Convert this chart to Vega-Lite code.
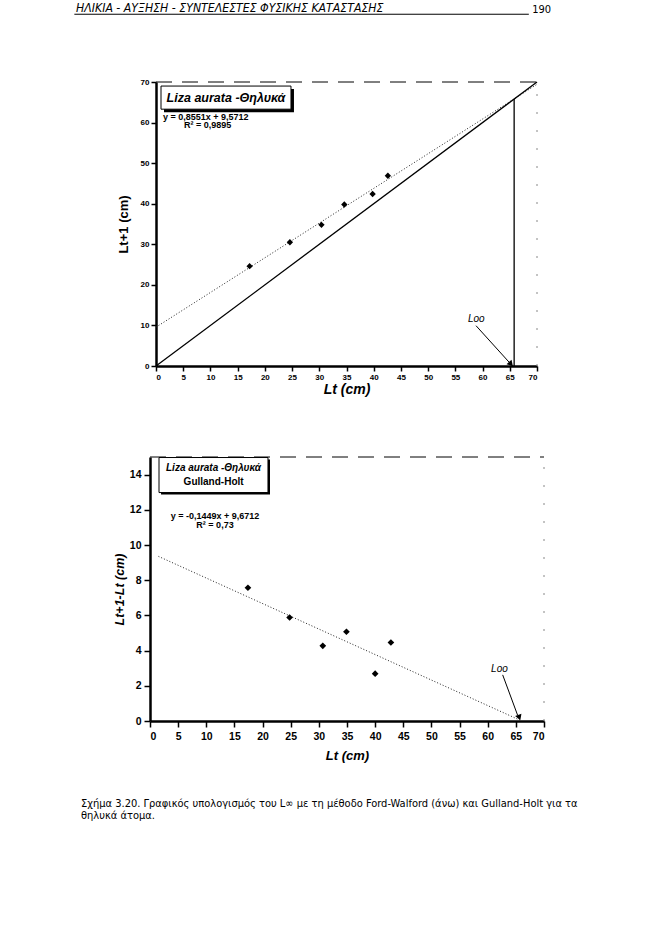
{
  "$schema": "https://vega.github.io/schema/vega-lite/v6.json",
  "padding": {"left": 73, "top": 1, "right": 5, "bottom": 5},
  "spacing": 60,
  "config": {
    "view": {"stroke": null},
    "font": "Liberation Sans",
    "axis": {"grid": false, "domainColor": "black", "tickColor": "black", "labelColor": "black", "titleColor": "black"}
  },
  "vconcat": [
    {
      "width": 381,
      "height": 284,
      "encoding": {
        "x": {"field": "x", "type": "quantitative", "scale": {"domain": [0, 70], "nice": false},
          "axis": {"values": [0, 5, 10, 15, 20, 25, 30, 35, 40, 45, 50, 55, 60, 65, 70], "title": "Lt (cm)",
            "labelFontSize": 8, "labelFontWeight": "bold", "labelPadding": 2, "tickSize": 5, "tickWidth": 1.5,
            "domainWidth": 2.5, "titleFontSize": 14, "titleFontWeight": "bold", "titleFontStyle": "italic", "titlePadding": 1}},
        "y": {"field": "y", "type": "quantitative", "scale": {"domain": [0, 70], "nice": false},
          "axis": {"values": [0, 10, 20, 30, 40, 50, 60, 70], "title": "Lt+1 (cm)",
            "labelFontSize": 8, "labelFontWeight": "bold", "labelPadding": 2, "tickSize": 5, "tickWidth": 1.5,
            "domainWidth": 2.5, "titleFontSize": 13, "titleFontWeight": "bold", "titlePadding": 10}}
      },
      "layer": [
        {
          "data": {"values": [{"x": 0, "y": 9.5712}, {"x": 70, "y": 69.43}]},
          "mark": {"type": "line", "color": "#222", "strokeWidth": 1, "strokeDash": [1, 2]}
        },
        {
          "data": {"values": [{"x": 0, "y": 0}, {"x": 70, "y": 70}]},
          "mark": {"type": "line", "color": "black", "strokeWidth": 1.3}
        },
        {
          "data": {"values": [{"x": 65.8, "y": 0, "y2": 65.8}]},
          "mark": {"type": "rule", "color": "black", "strokeWidth": 1.3},
          "encoding": {"y2": {"field": "y2"}}
        },
        {
          "data": {"values": [{"x": 0, "x2": 70, "y": 70}]},
          "mark": {"type": "rule", "color": "black", "strokeWidth": 1, "strokeDash": [16, 10]},
          "encoding": {"x2": {"field": "x2"}}
        },
        {
          "data": {"values": [{"x": 70, "y": 0, "y2": 70}]},
          "mark": {"type": "rule", "color": "#888", "strokeWidth": 1, "strokeDash": [2, 16]},
          "encoding": {"y2": {"field": "y2"}}
        },
        {
          "data": {"values": [
            {"x": 17.2, "y": 24.6}, {"x": 24.6, "y": 30.5}, {"x": 30.4, "y": 34.8},
            {"x": 34.6, "y": 39.8}, {"x": 39.8, "y": 42.4}, {"x": 42.6, "y": 46.9}
          ]},
          "mark": {"type": "point", "shape": "diamond", "filled": true, "color": "black", "size": 40, "opacity": 1}
        },
        {
          "data": {"values": [{"x": 1.47, "x2": 25.35, "y": 62.56, "y2": 68.26}]},
          "mark": {"type": "rect", "color": "black"},
          "encoding": {"x2": {"field": "x2"}, "y2": {"field": "y2"}}
        },
        {
          "data": {"values": [{"x": 0.92, "x2": 24.8, "y": 63.3, "y2": 69.0}]},
          "mark": {"type": "rect", "fill": "white", "stroke": "black", "strokeWidth": 1},
          "encoding": {"x2": {"field": "x2"}, "y2": {"field": "y2"}}
        },
        {
          "data": {"values": [{"x": 12.86, "y": 65.07, "t": "Liza aurata -Θηλυκά"}]},
          "mark": {"type": "text", "fontSize": 12.5, "fontWeight": "bold", "fontStyle": "italic", "align": "center", "baseline": "alphabetic", "color": "black"},
          "encoding": {"text": {"field": "t"}}
        },
        {
          "data": {"values": [{"x": 1.29, "y": 60.6, "t": "y = 0,8551x + 9,5712"}, {"x": 5.14, "y": 58.6, "t": "R² = 0,9895"}]},
          "mark": {"type": "text", "fontSize": 9, "fontWeight": "bold", "align": "left", "baseline": "alphabetic", "color": "black"},
          "encoding": {"text": {"field": "t"}}
        },
        {
          "data": {"values": [{"x": 58.8, "y": 9.93, "x2": 64.9, "y2": 0.9}]},
          "mark": {"type": "rule", "color": "black", "strokeWidth": 1},
          "encoding": {"x2": {"field": "x2"}, "y2": {"field": "y2"}}
        },
        {
          "data": {"values": [{"x": 65.1, "y": 0.65}]},
          "mark": {"type": "point", "shape": "triangle", "filled": true, "color": "black", "size": 45, "angle": 138, "opacity": 1}
        },
        {
          "data": {"values": [{"x": 57.3, "y": 10.85, "t": "Loo"}]},
          "mark": {"type": "text", "fontSize": 10, "fontStyle": "italic", "align": "left", "baseline": "alphabetic", "color": "black"},
          "encoding": {"text": {"field": "t"}}
        },
        {
          "data": {"values": [{"x": -14.7, "y": 87.26, "t": "ΗΛΙΚΙΑ - ΑΥΞΗΣΗ - ΣΥΝΤΕΛΕΣΤΕΣ ΦΥΣΙΚΗΣ ΚΑΤΑΣΤΑΣΗΣ"}]},
          "mark": {"type": "text", "fontSize": 12.2, "font": "DejaVu Sans Condensed, Liberation Sans", "fontStyle": "italic", "align": "left", "baseline": "alphabetic", "color": "black"},
          "encoding": {"text": {"field": "t"}}
        },
        {
          "data": {"values": [{"x": 72.6, "y": 86.9, "t": "190"}]},
          "mark": {"type": "text", "fontSize": 11, "font": "DejaVu Sans Condensed, Liberation Sans", "align": "right", "baseline": "alphabetic", "color": "black"},
          "encoding": {"text": {"field": "t"}}
        },
        {
          "data": {"values": [{"x": -15.0, "x2": 68.5, "y": 86.7}]},
          "mark": {"type": "rule", "color": "black", "strokeWidth": 1},
          "encoding": {"x2": {"field": "x2"}}
        }
      ]
    },
    {
      "width": 388,
      "height": 264,
      "encoding": {
        "x": {"field": "x", "type": "quantitative", "scale": {"domain": [0, 70], "range": [-6, 388], "nice": false},
          "axis": {"values": [0, 5, 10, 15, 20, 25, 30, 35, 40, 45, 50, 55, 60, 65, 70], "title": "Lt (cm)",
            "labelFontSize": 10.5, "labelFontWeight": "bold", "labelPadding": 4, "tickSize": 6, "tickWidth": 1.5,
            "domainWidth": 2.5, "titleFontSize": 13, "titleFontWeight": "bold", "titleFontStyle": "italic", "titlePadding": 8}},
        "y": {"field": "y", "type": "quantitative", "scale": {"domain": [0, 15], "nice": false},
          "axis": {"values": [0, 2, 4, 6, 8, 10, 12, 14], "title": "Lt+1-Lt (cm)", "offset": 6,
            "labelFontSize": 10.5, "labelFontWeight": "bold", "labelPadding": 3, "tickSize": 6, "tickWidth": 1.5,
            "domainWidth": 2.5, "titleFontSize": 12.5, "titleFontWeight": "bold", "titleFontStyle": "italic", "titlePadding": 3}}
      },
      "layer": [
        {
          "data": {"values": [{"x": 1.5, "y": 9.354}, {"x": 66.05, "y": 0}]},
          "mark": {"type": "line", "color": "#222", "strokeWidth": 1, "strokeDash": [1, 2]}
        },
        {
          "data": {"values": [{"x": 0, "x2": 70, "y": 15}]},
          "mark": {"type": "rule", "color": "black", "strokeWidth": 1, "strokeDash": [16, 10]},
          "encoding": {"x2": {"field": "x2"}}
        },
        {
          "data": {"values": [{"x": 70, "y": 0, "y2": 15}]},
          "mark": {"type": "rule", "color": "#888", "strokeWidth": 1, "strokeDash": [2, 16]},
          "encoding": {"y2": {"field": "y2"}}
        },
        {
          "data": {"values": [
            {"x": 17.4, "y": 7.57}, {"x": 24.8, "y": 5.88}, {"x": 30.7, "y": 4.27},
            {"x": 34.9, "y": 5.07}, {"x": 40.0, "y": 2.69}, {"x": 42.8, "y": 4.46}
          ]},
          "mark": {"type": "point", "shape": "diamond", "filled": true, "color": "black", "size": 45, "opacity": 1}
        },
        {
          "data": {"values": [{"x": 1.96, "x2": 21.32, "y": 12.87, "y2": 14.86}]},
          "mark": {"type": "rect", "color": "black"},
          "encoding": {"x2": {"field": "x2"}, "y2": {"field": "y2"}}
        },
        {
          "data": {"values": [{"x": 1.6, "x2": 20.96, "y": 12.98, "y2": 14.97}]},
          "mark": {"type": "rect", "fill": "white", "stroke": "black", "strokeWidth": 1},
          "encoding": {"x2": {"field": "x2"}, "y2": {"field": "y2"}}
        },
        {
          "data": {"values": [{"x": 11.28, "y": 14.19, "t": "Liza aurata -Θηλυκά"}]},
          "mark": {"type": "text", "fontSize": 10, "fontWeight": "bold", "fontStyle": "italic", "align": "center", "baseline": "alphabetic", "color": "black"},
          "encoding": {"text": {"field": "t"}}
        },
        {
          "data": {"values": [{"x": 11.3, "y": 13.43, "t": "Gulland-Holt"}]},
          "mark": {"type": "text", "fontSize": 10, "fontWeight": "bold", "align": "center", "baseline": "alphabetic", "color": "black"},
          "encoding": {"text": {"field": "t"}}
        },
        {
          "data": {"values": [{"x": 11.55, "y": 11.5, "t": "y = -0,1449x + 9,6712"}, {"x": 11.55, "y": 10.97, "t": "R² = 0,73"}]},
          "mark": {"type": "text", "fontSize": 9, "fontWeight": "bold", "align": "center", "baseline": "alphabetic", "color": "black"},
          "encoding": {"text": {"field": "t"}}
        },
        {
          "data": {"values": [{"x": 62.66, "y": 2.62, "x2": 65.3, "y2": 0.34}]},
          "mark": {"type": "rule", "color": "black", "strokeWidth": 1},
          "encoding": {"x2": {"field": "x2"}, "y2": {"field": "y2"}}
        },
        {
          "data": {"values": [{"x": 65.55, "y": 0.25}]},
          "mark": {"type": "point", "shape": "triangle", "filled": true, "color": "black", "size": 45, "angle": 160, "opacity": 1}
        },
        {
          "data": {"values": [{"x": 60.6, "y": 2.79, "t": "Loo"}]},
          "mark": {"type": "text", "fontSize": 10, "fontStyle": "italic", "align": "left", "baseline": "alphabetic", "color": "black"},
          "encoding": {"text": {"field": "t"}}
        },
        {
          "data": {"values": [
            {"x": -12.26, "y": -4.9, "t": "Σχήμα 3.20. Γραφικός υπολογισμός του L∞ με τη μέθοδο Ford-Walford (άνω) και Gulland-Holt για τα"},
            {"x": -12.26, "y": -5.55, "t": "θηλυκά άτομα."}
          ]},
          "mark": {"type": "text", "fontSize": 11, "font": "DejaVu Sans Condensed, Liberation Sans", "align": "left", "baseline": "alphabetic", "color": "black"},
          "encoding": {"text": {"field": "t"}}
        }
      ]
    }
  ]
}
